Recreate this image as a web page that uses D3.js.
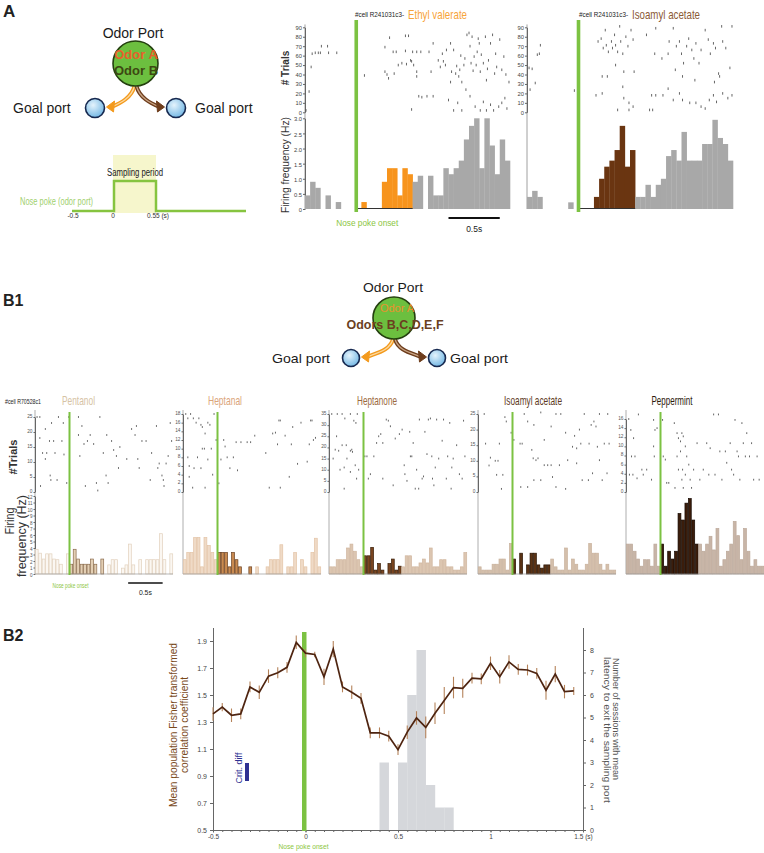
<!DOCTYPE html>
<html><head><meta charset="utf-8">
<script src="https://cdn.jsdelivr.net/npm/d3@7"></script>
<style>
body{margin:0;background:#fff}
svg{display:block}
text{font-family:'Liberation Sans',Arial,Helvetica,sans-serif}
</style>
</head><body>
<svg id="c" width="764" height="853"></svg>
<script>
// ---------------- DATA ----------------
const histBins = [-0.5,-0.45,-0.4,-0.35,-0.3,-0.25,-0.2,-0.15,-0.1,-0.05,0,0.05,0.1,0.15,0.2,0.25,0.3,0.35,0.4,0.45,0.5,0.55,0.6,0.65,0.7,0.75,0.8,0.85,0.9,0.95,1.0,1.05,1.1,1.15,1.2,1.25,1.3,1.35,1.4,1.45];
const binWidth = 0.05;
const samplingEnd = 0.55;

// Panel A histograms (Hz)
const aEthylHist = [0.45,0.9,0.7,0,0.45,0,0.23,0,0,0, 0,0.23,0,0,0,0.9,1.35,1.35,0.45,1.35,1.15, 0.9,1.1,0,1.1,0.45,0.45,1.35,1.15,1.35,1.6,2.3,2.75,3.0,1.35,3.0,2.1,1.15,2.3,1.6];
const aIsoHist = [0.4,0.6,0.4,0,0,0,0,0,0.22,0, 0,0,0,0.4,1.0,1.4,1.6,1.95,2.75,1.4,1.95, 0.4,0.4,0.8,0.4,0.8,1.0,1.75,1.95,1.6,2.55,1.6,1.6,1.6,2.15,2.15,2.95,2.35,2.15,1.6];

// Panel A rasters [time (s), trial]
const aEthylSpikes = [[-0.49,2],[-0.46,22],[-0.44,48],[-0.43,62],[-0.40,63],[-0.37,63],[-0.35,63],[-0.34,70],[-0.28,70],[-0.27,63],[-0.19,63],[0.08,39],
[0.28,69],[0.325,79],[0.36,64],[0.39,64],[0.28,43],[0.30,40],[0.315,36],[0.37,41],[0.41,50],[0.445,52],[0.49,51],[0.53,55],[0.48,81],[0.51,81],[0.48,65],[0.55,64],[0.59,64],[0.63,64],[0.54,54],[0.56,50],[0.59,43],[0.59,38],[0.54,3],[0.61,17],[0.64,16],[0.69,17],[0.75,17],[0.73,43],[0.75,73],[0.71,64],[0.80,55],[0.84,62],[0.85,54],[0.87,50],[0.92,73],[0.93,43],[0.97,41],[0.98,49],[1.0,38],[1.01,45],[1.03,32],[1.05,50],[1.08,82],[1.10,84],[1.13,80],[1.11,70],[1.15,59],[1.18,64],[1.20,73],[1.17,50],[1.21,43],[1.24,52],[1.26,80],[1.29,55],[1.31,73],[1.33,82],[1.36,62],[1.37,48],[1.40,77],[1.44,59],[1.46,40],[1.49,32],[1.45,15],[1.47,4],[0.90,13],[0.95,2],[0.99,10],[1.03,2],[1.11,17],[1.16,6],[1.21,2],[1.24,11],[1.27,2],[1.31,8],[1.34,2],[1.39,6],[1.42,10],[0.92,32],[1.07,24],[1.27,34],[0.95,66],[1.02,60],[1.06,57],[1.14,44],[1.22,61],[1.28,46],[1.35,41],[1.42,45],[1.12,52],[1.19,78],[0.88,66],[0.82,48]];
const aIsoSpikes = [[-0.48,47],[-0.45,46],[-0.42,31],[-0.40,61],[-0.38,62],[-0.37,71],[-0.47,24],[-0.04,23],
[0.19,75],[0.22,78],[0.24,68],[0.26,87],[0.27,71],[0.29,64],[0.32,75],[0.33,68],[0.35,82],[0.36,71],[0.38,64],[0.40,91],[0.41,75],[0.43,62],[0.46,80],[0.48,70],[0.51,87],[0.53,77],[0.23,38],[0.28,38],[0.36,50],[0.44,43],[0.54,43],[0.17,18],[0.23,20],[0.43,27],[0.44,15],[0.49,10],[0.53,6],[0.38,2.5],[0.49,2.5],
[0.66,82],[0.75,89],[0.74,62],[0.81,57],[0.87,62],[0.88,75],[0.92,89],[0.95,70],[0.98,75],[1.0,62],[1.02,52],[1.05,70],[1.07,78],[1.10,66],[1.12,57],[1.14,73],[1.17,52],[1.19,66],[1.23,87],[1.26,77],[1.28,62],[1.31,73],[1.33,68],[1.36,41],[1.39,91],[1.40,75],[1.43,68],[1.47,47],[1.49,91],[0.94,45],[1.01,38],[1.13,34],[1.32,32],[1.37,38],[0.71,18],[0.75,18],[0.82,18],[0.87,25],[0.92,13],[0.98,20],[1.01,13],[1.08,10],[1.14,10],[1.19,6],[1.23,4],[1.27,13],[1.31,18],[1.34,11],[1.40,20],[1.45,15],[1.49,18],[0.69,2.5],[0.72,2.5]];

// Panel B1 histograms (Hz)
const pentanolHist = [3.8,3.2,2.3,3.1,3.1,2.3,2.2,1.5,0,3.1, 1.5,3.8,2.3,1.5,1.5,1.5,2.3,1.5,0,2.3,0, 1.4,2.2,2.2,0,0.9,1.4,4.6,1.4,0,2.2,0,2.2,2.2,2.2,2.2,6.2,2.2,0,3.1];
const heptanalHist = [2.2,3.3,3.3,5.6,5.6,1.1,5.6,4.4,3.3,2.2, 3.3,3.3,3.3,1.1,3.3,2.2,1.1,0,0,1.1,0, 1.1,0,0,1.1,2.2,2.2,2.2,4.5,0,1.1,1.1,3.3,0,2.2,1.1,0,3.3,5.5,1.1];
const heptanoneHist = [1.1,1.1,2.2,2.2,2.2,4.0,4.6,3.5,2.2,1.1, 2.8,2.8,4.1,0.6,1.6,0.6,0,1.6,2.3,0.6,1.2, 1.1,2.8,2.8,1.1,1.1,1.7,2.3,1.7,4.0,1.1,1.1,2.2,2.2,1.1,1.1,0.6,0.6,1.1,3.3];
const isoamylHist = [1.1,0.6,0.6,0.6,1.5,1.5,2.3,2.3,0.6,4.7, 2.3,0,3.2,0,1.4,3.2,3.2,1.4,0.9,1.4,1.4, 2.3,1.1,0.6,0.6,4.0,0.6,2.3,1.5,0.6,0.6,1.5,4.7,3.2,3.2,1.5,0.6,1.5,0.6,0.6];
const peppermintHist = [4.6,4.6,3.5,2.3,1.2,2.2,2.2,1.2,4.6,1.2, 4.6,1.2,3.5,2.3,3.5,9.3,8.3,10.9,11.6,8.3,4.6, 4.6,3.5,4.6,5.8,3.7,7.0,1.2,2.2,3.5,4.6,8.1,5.9,2.2,7.0,3.5,1.2,2.2,1.2,1.2];

// Panel B1 rasters [time (s), trial]
const pentanolSpikes = [[-0.47,25],[-0.43,25],[-0.43,18],[-0.42,2],[-0.39,13],[-0.35,21],[-0.35,11],[-0.33,13],[-0.29,17],[-0.28,5.5],[-0.27,4],[-0.26,23],[-0.23,17],[-0.21,13],[-0.18,4],[-0.16,25],[-0.11,17],[-0.09,23],[-0.08,12.5],[-0.04,3],[-0.01,25],[0.13,25],[0.13,19],[0.15,12],[0.18,22],[0.21,16],[0.23,2],[0.26,17],[0.30,19],[0.35,16],[0.39,3],[0.41,0.5],[0.44,25],[0.49,13],[0.53,5.5],[0.54,19],[0.56,3],[0.61,17],[0.64,14],[0.68,12],[0.71,8],[0.73,15],[0.83,11],[0.90,21],[0.95,19],[0.97,22],[0.99,11],[1.01,8],[1.05,17],[1.11,17],[1.17,4],[1.19,13],[1.26,22],[1.28,8],[1.30,9.5],[1.34,5.5],[1.36,4],[1.37,2],[1.40,9.5],[1.43,12],[1.46,23],[1.48,17]];
const heptanalSpikes = [[-0.46,18],[-0.43,17],[-0.39,18],[-0.35,17],[-0.31,16],[-0.27,17],[-0.24,15.5],[-0.22,15],[-0.18,13.5],[-0.14,16],[-0.11,15.5],[-0.09,10],[-0.05,18],[-0.02,12],[-0.43,8],[-0.41,3.5],[-0.36,1],[-0.34,5.5],[-0.29,8],[-0.24,5.5],[-0.22,10],[-0.19,10],[-0.18,1],[-0.14,7.5],[-0.07,4],[0.02,2],[0.05,7.5],[0.09,12],[0.11,10.5],[0.14,8],[0.18,5.5],[0.23,8],[0.27,11.5],[0.29,5],[0.34,11.5],[0.43,11.5],[0.48,11.5],[0.54,13],[-0.41,6],[0.80,13.5],[0.84,13.7],[0.70,9],[0.87,11],[0.89,16.5],[0.91,16.5],[0.75,1],[0.91,1],[0.98,13],[1.04,3.5],[1.07,11],[1.09,15],[1.16,6.5],[1.21,16],[1.30,7],[1.33,11],[1.35,16.5],[1.37,16.5],[1.39,12],[1.42,12.5]];
const heptanoneSpikes = [[-0.46,35],[-0.38,35],[-0.31,35],[-0.27,33],[-0.19,35],[-0.14,32],[-0.11,31],[-0.09,35],[-0.39,25],[-0.31,21],[-0.25,21],[-0.41,19],[-0.36,18.5],[-0.19,18.5],[-0.17,19],[-0.16,18],[-0.24,15],[-0.44,15],[-0.34,10],[-0.28,11],[-0.19,9],[-0.12,12],[-0.07,10],[-0.10,6],[-0.28,1.5],[0.02,16],[0.05,16],[0.10,8],[0.07,6],[0.15,16],[0.19,22],[0.22,25],[0.25,26],[0.28,22],[0.28,6],[0.33,32.5],[0.36,32],[0.39,29.5],[0.43,3],[0.46,24],[0.52,26],[0.56,28],[0.59,12],[0.60,8],[0.63,5],[0.67,27],[0.68,16],[0.70,16],[0.72,22],[0.75,1.5],[0.77,10],[0.80,1.5],[0.81,32.5],[0.85,6],[0.87,7],[0.89,27],[0.92,17],[0.94,32.5],[0.97,33],[0.99,16],[1.0,6],[1.02,3],[1.04,11],[1.06,32.5],[1.09,15],[1.14,23],[1.16,32.5],[1.20,6],[1.22,16],[1.25,31],[1.27,1.5],[1.28,11],[1.30,15],[1.35,21],[1.39,8],[1.43,6],[1.45,32],[1.47,16]];
const isoamylSpikes = [[-0.41,25],[-0.39,15.5],[-0.34,8.5],[-0.32,11],[-0.25,10],[-0.23,5.5],[-0.21,10],[-0.19,15.5],[-0.16,1],[-0.14,5.5],[-0.11,24],[-0.09,22.6],[0.17,25],[0.22,22.6],[0.31,21.5],[0.41,25.5],[0.56,21],[0.63,25],[0.70,25],[0.77,19],[0.90,18],[0.97,20],[1.04,25],[1.14,21.5],[1.18,22.6],[1.21,21],[1.26,25],[1.38,25],[0.11,15.5],[0.14,15.5],[0.46,16.7],[0.87,14.5],[0.93,14],[0.99,15.5],[1.11,15.5],[1.23,14.5],[1.33,15.5],[1.40,15.5],[0.28,13.5],[0.30,10.8],[0.34,10.2],[0.37,10.8],[0.51,8.6],[0.58,4.8],[0.63,1.6],[0.77,1],[0.12,1.6],[0.22,1.6],[0.31,3.8],[0.41,3.8],[0.46,8.6],[0.56,8.6],[0.68,8.6],[0.80,10.2],[0.93,9.2],[1.01,3.8],[1.10,3.8],[1.16,6],[1.26,10.2],[1.30,3.8],[1.37,6],[0.02,16.7],[0.0,3.8],[-0.02,19]];
const peppermintSpikes = [[-0.46,16],[-0.43,13.6],[-0.39,11.8],[-0.42,7.8],[-0.37,7.8],[-0.45,3.8],[-0.40,3.8],[-0.34,3],[-0.27,4.9],[-0.25,3.8],[-0.20,4.9],[-0.32,17],[-0.10,15.8],[-0.08,13.6],[-0.05,14],[-0.10,10],[-0.09,7.8],[-0.13,2.7],[0.03,15.8],[0.04,7.8],[0.07,7.1],[0.09,2],[0.12,2],[0.20,15.1],[0.24,12.9],[0.26,11.8],[0.29,11.1],[0.31,12.9],[0.33,12.2],[0.36,10],[0.38,7.8],[0.41,6],[0.43,2.7],[0.45,0.9],[0.26,4.9],[0.32,4.9],[0.36,3.8],[0.24,7.8],[0.29,8.9],[0.31,2.7],[0.21,0.9],[0.33,0.9],[0.48,4.9],[0.53,10.7],[0.57,2.7],[0.62,4.9],[0.67,10.7],[0.72,9.6],[0.77,17],[0.84,17],[0.86,8.9],[0.89,2.7],[0.94,8.9],[0.96,6.4],[1.01,10.7],[1.03,4.9],[1.08,15.8],[1.11,8.9],[1.13,7.8],[1.15,2.7],[1.20,10.7],[1.23,7.8],[1.25,12.9],[1.29,7.8],[1.32,10.7],[1.35,2.7],[1.40,7.8],[1.43,2.7],[0.79,3.8],[0.70,3.8],[1.06,3.8],[1.18,15.1]];

// Panel B2
const b2Times = histBins;
const b2Corr = [1.36,1.41,1.35,1.36,1.56,1.52,1.64,1.665,1.705,1.89, 1.81,1.80,1.635,1.84,1.56,1.52,1.475,1.22,1.22,1.195, 1.095,1.225,1.33,1.26,1.365,1.46,1.555,1.55,1.625,1.62, 1.735,1.635,1.745,1.69,1.685,1.66,1.535,1.655,1.525,1.53];
const b2Err = [0.05,0.03,0.05,0.04,0.04,0.05,0.05,0.04,0.04,0.05, 0.03,0.02,0.06,0.06,0.04,0.05,0.04,0.04,0.04,0.04, 0.04,0.05,0.05,0.08,0.08,0.10,0.08,0.07,0.04,0.04, 0.05,0.05,0.05,0.04,0.04,0.04,0.07,0.06,0.05,0.03];
const latencyBins = [0.40,0.45,0.50,0.55,0.60,0.65,0.70,0.75];
const latencyCounts = [3,0,3,6,8,2,1,1];
const b2LeftTicks = [0.5,0.7,0.9,1.1,1.3,1.5,1.7,1.9];
const b2RightTicks = [0,1,2,3,4,5,6,7,8];
const b2XTicks = [-0.5,0,0.5,1,1.5];

// ---------------- DRAWING ----------------
const svg = d3.select("#c");
svg.append("rect").attr("width",764).attr("height",853).attr("fill","#fff");
const GREEN = "#7cc242";

function T(x,y,s,o={}){
  const t = svg.append("text").attr("x",x).attr("y",y).text(s)
    .attr("font-size",o.size||10).attr("fill",o.color||"#222")
    .attr("text-anchor",o.anchor||"start");
  if(o.weight) t.attr("font-weight",o.weight);
  if(o.len) t.attr("textLength",o.len).attr("lengthAdjust","spacingAndGlyphs");
  if(o.rot) t.attr("transform",`rotate(${o.rot},${x},${y})`);
  return t;
}
const isSampled = t => t > -1e-6 && t < samplingEnd - 1e-6;

function styleAxis(g, size, color){
  g.selectAll("text").attr("font-size",size).attr("fill",color||"#444")
   .attr("font-family","'Liberation Sans',Arial,sans-serif");
  g.selectAll("line").attr("stroke","#666");
  g.select(".domain").attr("stroke","#666");
}

// ---- Panel A schematic ----
T(3,17,"A",{size:17,weight:"bold"});
const defs = svg.append("defs");
const grad = defs.append("radialGradient").attr("id","portg").attr("cx","40%").attr("cy","35%").attr("r","70%");
grad.append("stop").attr("offset","0%").attr("stop-color","#e4f3fc");
grad.append("stop").attr("offset","100%").attr("stop-color","#6fb5e3");

function schematic(cx, cy, r, pr, dx, dy){
  const oy = cy + r;
  const L = [cx - dx + pr + 2, cy + dy - 1], R = [cx + dx - pr - 2, cy + dy - 1];
  const orangeP = `M${cx-1},${oy} C${cx-4},${oy+12} ${L[0]+14},${L[1]-4} ${L[0]+5},${L[1]}`;
  const brownP = `M${cx+1},${oy} C${cx+4},${oy+12} ${R[0]-14},${R[1]-4} ${R[0]-5},${R[1]}`;
  [[orangeP,"#f39a1e","#fcd9a0",L,-1],[brownP,"#6e3d1c","#c9a586",R,1]].forEach(([p,c,c2,tip,s])=>{
    svg.append("path").attr("d",p).attr("fill","none").attr("stroke",c).attr("stroke-width",4);
    svg.append("path").attr("d",p).attr("fill","none").attr("stroke",c2).attr("stroke-width",1.3);
    svg.append("path").attr("d",`M${tip[0]},${tip[1]} L${tip[0]-s*8},${tip[1]-6} L${tip[0]-s*7},${tip[1]+5} Z`)
      .attr("fill",c).attr("stroke",c).attr("stroke-width",1);
  });
  svg.append("circle").attr("cx",cx).attr("cy",cy).attr("r",r).attr("fill","#6cbf3f").attr("stroke","#24400f").attr("stroke-width",1.6);
  [[cx-dx,cy+dy],[cx+dx,cy+dy]].forEach(([x,y])=>{
    svg.append("circle").attr("cx",x).attr("cy",y).attr("r",pr).attr("fill","url(#portg)").attr("stroke","#16284f").attr("stroke-width",1.6);
  });
}
schematic(135.5,63.5,22.5,9.5,40.5,44.5);
T(133,38,"Odor Port",{size:14,anchor:"middle",color:"#1a1a1a"});
T(136,59,"Odor A",{size:13,weight:"bold",color:"#e8602c",anchor:"middle"});
T(136,75,"Odor B",{size:13,weight:"bold",color:"#3d4812",anchor:"middle"});
T(13,113,"Goal port",{size:14,color:"#1a1a1a"});
T(195,113,"Goal port",{size:14,color:"#1a1a1a"});

// sampling period diagram
svg.append("rect").attr("x",113).attr("y",155).attr("width",43).attr("height",58).attr("fill","#f6f6cc");
svg.append("path").attr("d","M72,211 H114 V181 H156 V211 H246").attr("fill","none").attr("stroke","#86c440").attr("stroke-width",2.5);
T(135,176,"Sampling period",{size:10,anchor:"middle",len:56,color:"#222"});
T(20,205,"Nose poke (odor port)",{size:10,len:73,color:"#9fd06f"});
T(73,218,"-0.5",{size:6.5,anchor:"middle",color:"#333"});
T(113,218,"0",{size:6.5,anchor:"middle",color:"#333"});
T(147,218,"0.55 (s)",{size:6.5,color:"#333"});

// ---- Panel A raster + histogram ----
function panelA(x0, x1, hist, spikes, hotColor, showLabels){
  const x = d3.scaleLinear().domain([-0.5,1.5]).range([x0,x1]);
  const yR = d3.scaleLinear().domain([0,90]).range([112.3,27.3]);
  const yH = d3.scaleLinear().domain([0,3]).range([209,118.3]);
  const g = svg.append("g");
  g.append("line").attr("x1",x0).attr("x2",x0).attr("y1",yR(93)).attr("y2",yH(0)).attr("stroke","#888").attr("stroke-width",0.8);
  const ar = g.append("g").attr("transform",`translate(${x0},0)`)
    .call(d3.axisLeft(yR).tickValues([0,10,20,30,40,50,60,70,80,90]).tickSize(2).tickPadding(1).tickSizeOuter(0));
  styleAxis(ar,5.8,"#444");
  if(showLabels){
    const ah = g.append("g").attr("transform",`translate(${x0},0)`)
      .call(d3.axisLeft(yH).tickValues([0,0.5,1,1.5,2,2.5,3]).tickFormat(d=>d===0?"0":d3.format(".1f")(d)).tickSize(2).tickPadding(1).tickSizeOuter(0));
    styleAxis(ah,5.8,"#444");
    ah.selectAll(".tick text").attr("dy","0.45em");
  }
  g.selectAll(null).data(hist.map((v,i)=>({t:histBins[i],v}))).join("rect")
    .attr("x",d=>x(d.t)).attr("width",d=>x(d.t+binWidth)-x(d.t)+0.3)
    .attr("y",d=>yH(d.v)).attr("height",d=>yH(0)-yH(d.v))
    .attr("fill",d=>isSampled(d.t)?hotColor:"#a8a8a8");
  g.append("line").attr("x1",x(0)).attr("x2",x(samplingEnd)).attr("y1",yH(0)-0.5).attr("y2",yH(0)-0.5).attr("stroke","#333").attr("stroke-width",1.2);
  g.selectAll(null).data(spikes).join("line")
    .attr("x1",d=>x(d[0])).attr("x2",d=>x(d[0]))
    .attr("y1",d=>yR(d[1])-1.3).attr("y2",d=>yR(d[1])+1.3)
    .attr("stroke","#555").attr("stroke-width",0.9);
  g.append("rect").attr("x",x(0)-1.8).attr("width",3.6).attr("y",20).attr("height",192).attr("fill",GREEN);
  return x;
}
const xa1 = panelA(305,510,aEthylHist,aEthylSpikes,"#f7941d",true);
const xa2 = panelA(527,733,aIsoHist,aIsoSpikes,"#6a3511",false);
T(355,17,"#cell R241031c3-",{size:7.5,len:49,color:"#222"});
T(408,19,"Ethyl valerate",{size:13,len:59,color:"#f7a43a"});
T(579,17,"#cell R241031c3-",{size:7.5,len:49,color:"#222"});
T(632,19,"Isoamyl acetate",{size:13,len:68,color:"#8b5a36"});
T(289,68,"# Trials",{size:10,weight:"bold",anchor:"middle",rot:-90,color:"#333"});
T(289,165,"Firing frequency (Hz)",{size:10.5,anchor:"middle",rot:-90,color:"#333",len:96});
T(xa1(0)+11,226,"Nose poke onset",{size:9,anchor:"middle",len:62,color:"#8cc63f"});
svg.append("line").attr("x1",xa1(0.9)).attr("x2",xa1(1.4)).attr("y1",218).attr("y2",218).attr("stroke","#111").attr("stroke-width",2);
T((xa1(0.9)+xa1(1.4))/2,232,"0.5s",{size:8.5,anchor:"middle",len:16,color:"#222"});

// ---- Panel B1 schematic ----
T(3,306,"B1",{size:16,weight:"bold"});
schematic(394,318,21,8.5,43,40);
T(393,292,"Odor Port",{size:13.5,anchor:"middle",len:60,color:"#1a1a1a"});
T(397,312,"Odor A",{size:11,anchor:"middle",color:"#e8922e"});
T(395,329,"Odors B,C,D,E,F",{size:12,weight:"bold",anchor:"middle",len:97,color:"#6b3f1f"});
T(272,363,"Goal port",{size:13.5,len:58,color:"#1a1a1a"});
T(450,363,"Goal port",{size:13.5,len:58,color:"#1a1a1a"});

// ---- Panel B1 panels ----
const b1Panels = [
  {name:"Pentanol",   x0:35,  hist:pentanolHist,   spikes:pentanolSpikes,   max:25, step:5, top:417, tc:"#d6c3a5", tx:78.5, tl:33, lf:"#fbf7f2", ls:"#e2d1bd", df:"#e3cfb4", ds:"#8a6b4c"},
  {name:"Heptanal",   x0:183, hist:heptanalHist,   spikes:heptanalSpikes,   max:18, step:2, top:414, tc:"#dba57a", tx:225, tl:34, lf:"#efdac6", ls:"#e3c3a6", df:"#c98a50", ds:"#6b4020"},
  {name:"Heptanone",  x0:329, hist:heptanoneHist,  spikes:heptanoneSpikes,  max:35, step:5, top:414, tc:"#9c6a3e", tx:377, tl:40, lf:"#dcc6b1", ls:"#d0b69e", df:"#7a4520", ds:"#3a1e08"},
  {name:"Isoamyl acetate", x0:478, hist:isoamylHist, spikes:isoamylSpikes, max:25, step:5, top:414, tc:"#5e3a1e", tx:533, tl:58, lf:"#d4bfab", ls:"#c9b29d", df:"#5a3214", ds:"#2a1404"},
  {name:"Peppermint", x0:626, hist:peppermintHist, spikes:peppermintSpikes, max:16, step:2, top:419, tc:"#2e1a0c", tx:672, tl:41, lf:"#c8b5a7", ls:"#bda99a", df:"#3b1d0b", ds:"#140800"}
];
const yHB = d3.scaleLinear().domain([0,12]).range([574,496]);
b1Panels.forEach((p,pi)=>{
  const x = d3.scaleLinear().domain([-0.5,1.5]).range([p.x0,p.x0+138]);
  const yR = d3.scaleLinear().domain([0,p.max]).range([492,p.top]);
  const g = svg.append("g");
  g.append("line").attr("x1",p.x0).attr("x2",p.x0).attr("y1",410).attr("y2",574).attr("stroke","#999").attr("stroke-width",0.8);
  const ticks = d3.range(0,p.max+0.001,p.step);
  const ar = g.append("g").attr("transform",`translate(${p.x0},0)`)
    .call(d3.axisLeft(yR).tickValues(ticks).tickSize(1.5).tickPadding(1).tickSizeOuter(0));
  styleAxis(ar,4.8,"#555");
  ar.selectAll(".tick text").attr("dy","0.1em");
  if(pi===0){
    const ah = g.append("g").attr("transform",`translate(${p.x0},0)`)
      .call(d3.axisLeft(yHB).tickValues(d3.range(0,13,1)).tickSize(1.5).tickPadding(1).tickSizeOuter(0));
    styleAxis(ah,4.6,"#555");
    ah.selectAll(".tick text").attr("dy","0.45em");
  }
  g.selectAll(null).data(p.hist.map((v,i)=>({t:histBins[i],v}))).join("rect")
    .attr("x",d=>x(d.t)+0.3).attr("width",d=>x(d.t+binWidth)-x(d.t)-0.6)
    .attr("y",d=>yHB(d.v)).attr("height",d=>yHB(0)-yHB(d.v))
    .attr("fill",d=>isSampled(d.t)?p.df:p.lf)
    .attr("stroke",d=>d.v>0?(isSampled(d.t)?p.ds:p.ls):"none").attr("stroke-width",0.7);
  g.append("line").attr("x1",p.x0).attr("x2",p.x0+138).attr("y1",574).attr("y2",574).attr("stroke","#999").attr("stroke-width",0.7);
  g.selectAll(null).data(p.spikes).join("line")
    .attr("x1",d=>x(d[0])).attr("x2",d=>x(d[0]))
    .attr("y1",d=>yR(d[1])-0.9).attr("y2",d=>yR(d[1])+0.9)
    .attr("stroke","#555").attr("stroke-width",0.9);
  g.append("rect").attr("x",x(0)-1).attr("width",2).attr("y",412).attr("height",163).attr("fill",GREEN);
  T(p.tx,405,p.name,{size:13,anchor:"middle",len:p.tl,color:p.tc});
  if(pi===0){
    T(x(0)+1,588,"Nose poke onset",{size:6.5,anchor:"middle",len:36,color:"#8cc63f"});
    svg.append("line").attr("x1",x(0.85)).attr("x2",x(1.35)).attr("y1",583).attr("y2",583).attr("stroke","#111").attr("stroke-width",1.6);
    T((x(0.85)+x(1.35))/2,595,"0.5s",{size:7.5,anchor:"middle",len:13,color:"#222"});
  }
});
T(5,404,"#cell R70528c1",{size:8,len:36,color:"#222"});
T(17,457,"#Trials",{size:11,weight:"bold",anchor:"middle",rot:-90,color:"#333"});
T(14,521,"Firing",{size:12,anchor:"middle",rot:-90,color:"#333",len:27});
T(26,536,"frequency (Hz)",{size:12,anchor:"middle",rot:-90,color:"#333",len:82});

// ---- Panel B2 ----
T(3,641,"B2",{size:16,weight:"bold"});
const xb = d3.scaleLinear().domain([-0.5,1.5]).range([213,583]);
const yL = d3.scaleLinear().domain([0.5,2.0]).range([830,627.5]);
const yRt = d3.scaleLinear().domain([0,9]).range([830,627.5]);
const gb = svg.append("g");
gb.selectAll(null).data(latencyCounts.map((c,i)=>({t:latencyBins[i],c}))).join("rect")
  .attr("x",d=>xb(d.t)).attr("width",d=>xb(d.t+binWidth)-xb(d.t)+0.2)
  .attr("y",d=>yRt(d.c)).attr("height",d=>yRt(0)-yRt(d.c))
  .attr("fill","#d5d7db");
const axL = gb.append("g").attr("transform","translate(213,0)")
  .call(d3.axisLeft(yL).tickValues(b2LeftTicks).tickFormat(d3.format(".1f")).tickSize(3).tickPadding(3).tickSizeOuter(0));
styleAxis(axL,7,"#444");
const axR = gb.append("g").attr("transform","translate(583,0)")
  .call(d3.axisRight(yRt).tickValues(b2RightTicks).tickSize(3).tickPadding(4).tickSizeOuter(0));
styleAxis(axR,7,"#444");
const axBm = gb.append("g").attr("transform","translate(0,830)")
  .call(d3.axisBottom(xb).tickValues(histBins.concat([1.5])).tickFormat("").tickSize(2).tickSizeOuter(0));
styleAxis(axBm,6,"#444");
const axB = gb.append("g").attr("transform","translate(0,830)")
  .call(d3.axisBottom(xb).tickValues(b2XTicks).tickFormat(d=>d===1.5?"1.5 (s)":(d===-0.5?"-0.5":String(d))).tickSize(2.5).tickPadding(2).tickSizeOuter(0));
styleAxis(axB,6.5,"#444");
gb.append("rect").attr("x",xb(0)-3.5).attr("width",4.5).attr("y",632).attr("height",199).attr("fill",GREEN);
gb.selectAll(null).data(b2Corr.map((v,i)=>({t:b2Times[i],v,e:b2Err[i]}))).join("line")
  .attr("x1",d=>xb(d.t)).attr("x2",d=>xb(d.t))
  .attr("y1",d=>yL(d.v+d.e)).attr("y2",d=>yL(d.v-d.e))
  .attr("stroke","#b5835a").attr("stroke-width",1.1);
gb.append("path").datum(b2Corr.map((v,i)=>[b2Times[i],v]))
  .attr("d",d3.line().x(d=>xb(d[0])).y(d=>yL(d[1])))
  .attr("fill","none").attr("stroke","#4e2410").attr("stroke-width",1.7);
T(242,768,"Crit. diff",{size:9,anchor:"middle",rot:-90,color:"#2e3192"});
gb.append("rect").attr("x",245).attr("y",763).attr("width",4).attr("height",18).attr("fill","#2e3192");
T(177,725,"Mean population Fisher transformed",{size:10,anchor:"middle",rot:-90,color:"#7a4a1c",len:164});
T(188,725,"correlation coefficient",{size:10,anchor:"middle",rot:-90,color:"#7a4a1c",len:96});
T(613,658,"Number of sessions with mean",{size:9.5,rot:90,color:"#555",len:122});
T(604,657,"latency to exit the sampling port",{size:9.5,rot:90,color:"#555",len:146});
T(xb(0)-2,849,"Nose poke onset",{size:8,anchor:"middle",len:50,color:"#8cc63f"});
</script>
</body></html>
